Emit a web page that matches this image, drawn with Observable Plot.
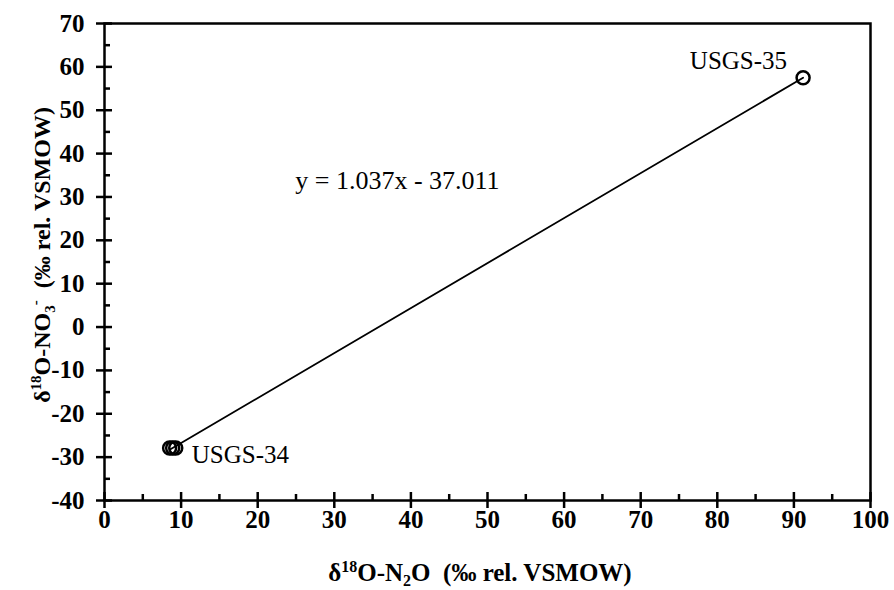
<!DOCTYPE html>
<html>
<head>
<meta charset="utf-8">
<script src="https://cdn.jsdelivr.net/npm/d3@7"></script>
<script src="https://cdn.jsdelivr.net/npm/@observablehq/plot@0.6"></script>
<style>
  html, body { margin: 0; padding: 0; background: #fff; }
  #chart { width: 894px; height: 590px; }
</style>
</head>
<body>
<div id="chart"></div>
<script>
// Data
const samples = ["USGS-34", "USGS-34", "USGS-34", "USGS-35"];
const n2o = [8.5, 8.9, 9.3, 91.2];       // δ18O-N2O
const no3 = [-27.9, -27.9, -27.9, 57.5]; // δ18O-NO3-
const equation = "y = 1.037x - 37.011";
const xMajor = [0, 10, 20, 30, 40, 50, 60, 70, 80, 90, 100];
const xMinor = [5, 15, 25, 35, 45, 55, 65, 75, 85, 95];
const yMajor = [-40, -30, -20, -10, 0, 10, 20, 30, 40, 50, 60, 70];
const yMinor = [-35, -25, -15, -5, 5, 15, 25, 35, 45, 55, 65];

const points = samples.map((s, i) => ({sample: s, x: n2o[i], y: no3[i]}));
const lab34 = [points[2]];
const lab35 = [points[3]];

const font = "'Liberation Serif', 'Times New Roman', serif";
const W = 894, H = 590, mL = 104, mR = 24, mT = 23, mB = 90;
const fW = W - mL - mR, fH = H - mT - mB;

const plot = Plot.plot({
  width: W,
  height: H,
  marginLeft: mL,
  marginRight: mR,
  marginTop: mT,
  marginBottom: mB,
  style: {fontFamily: font, background: "#fff", color: "#000", overflow: "visible"},
  x: {domain: [0, 100], axis: null},
  y: {domain: [-40, 70], axis: null},
  marks: [
    Plot.linearRegressionY(points, {x: "x", y: "y", stroke: "black", strokeWidth: 1.8, ci: 0}),
    Plot.dot(points, {x: "x", y: "y", r: 6.5, stroke: "black", strokeWidth: 2.5, fill: "none"}),
    Plot.text(lab35, {x: "x", y: "y", text: "sample", fontSize: 25, textAnchor: "end", dx: -16, dy: -17, fill: "black"}),
    Plot.text(lab34, {x: "x", y: "y", text: "sample", fontSize: 25, textAnchor: "start", dx: 16, dy: 7, fill: "black"}),
    Plot.text([equation], {x: 24.9, y: 33.8, text: d => d, fontSize: 26, textAnchor: "start", fill: "black"}),
    Plot.frame({stroke: "black", strokeWidth: 2.5}),
    // major ticks cross the axis lines, minor ticks point inward
    Plot.tickX(xMajor, {x: d => d, stroke: "black", strokeWidth: 2.5, insetTop: fH - 8, insetBottom: -8}),
    Plot.tickX(xMinor, {x: d => d, stroke: "black", strokeWidth: 2.5, insetTop: fH - 6}),
    Plot.tickY(yMajor, {y: d => d, stroke: "black", strokeWidth: 2.5, insetLeft: -8, insetRight: fW - 8}),
    Plot.tickY(yMinor, {y: d => d, stroke: "black", strokeWidth: 2.5, insetRight: fW - 6}),
    Plot.axisX(xMajor, {tickSize: 0, tickPadding: 10, fontSize: 25, fontWeight: "bold", label: null, tickFormat: d => String(d)}),
    Plot.axisY(yMajor, {tickSize: 0, tickPadding: 20, fontSize: 25, fontWeight: "bold", label: null, tickFormat: d => String(d)}),
  ]
});

document.getElementById("chart").appendChild(plot);
const svg = d3.select(plot);

// axis titles with sub/superscripts
const xt = svg.append("text")
  .attr("x", 480).attr("y", 581)
  .attr("text-anchor", "middle").attr("font-size", 25).attr("font-weight", "bold")
  .attr("font-family", font);
xt.append("tspan").text("δ");
xt.append("tspan").attr("font-size", 16).attr("dy", -9).text("18");
xt.append("tspan").attr("dy", 9).text("O-N");
xt.append("tspan").attr("font-size", 16).attr("dy", 5).text("2");
xt.append("tspan").attr("dy", -5).text("O  (‰ rel. VSMOW)");

const yt = svg.append("text")
  .attr("transform", `translate(50, 255) rotate(-90)`)
  .attr("text-anchor", "middle").attr("font-size", 24).attr("font-weight", "bold")
  .attr("font-family", font);
yt.append("tspan").text("δ");
yt.append("tspan").attr("font-size", 15).attr("dy", -9).text("18");
yt.append("tspan").attr("dy", 9).text("O-NO");
yt.append("tspan").attr("font-size", 15).attr("dy", 5).text("3");
yt.append("tspan").attr("font-size", 15).attr("dy", -15).text("-");
yt.append("tspan").attr("dy", 10).text("  (‰ rel. VSMOW)");
</script>
</body>
</html>
